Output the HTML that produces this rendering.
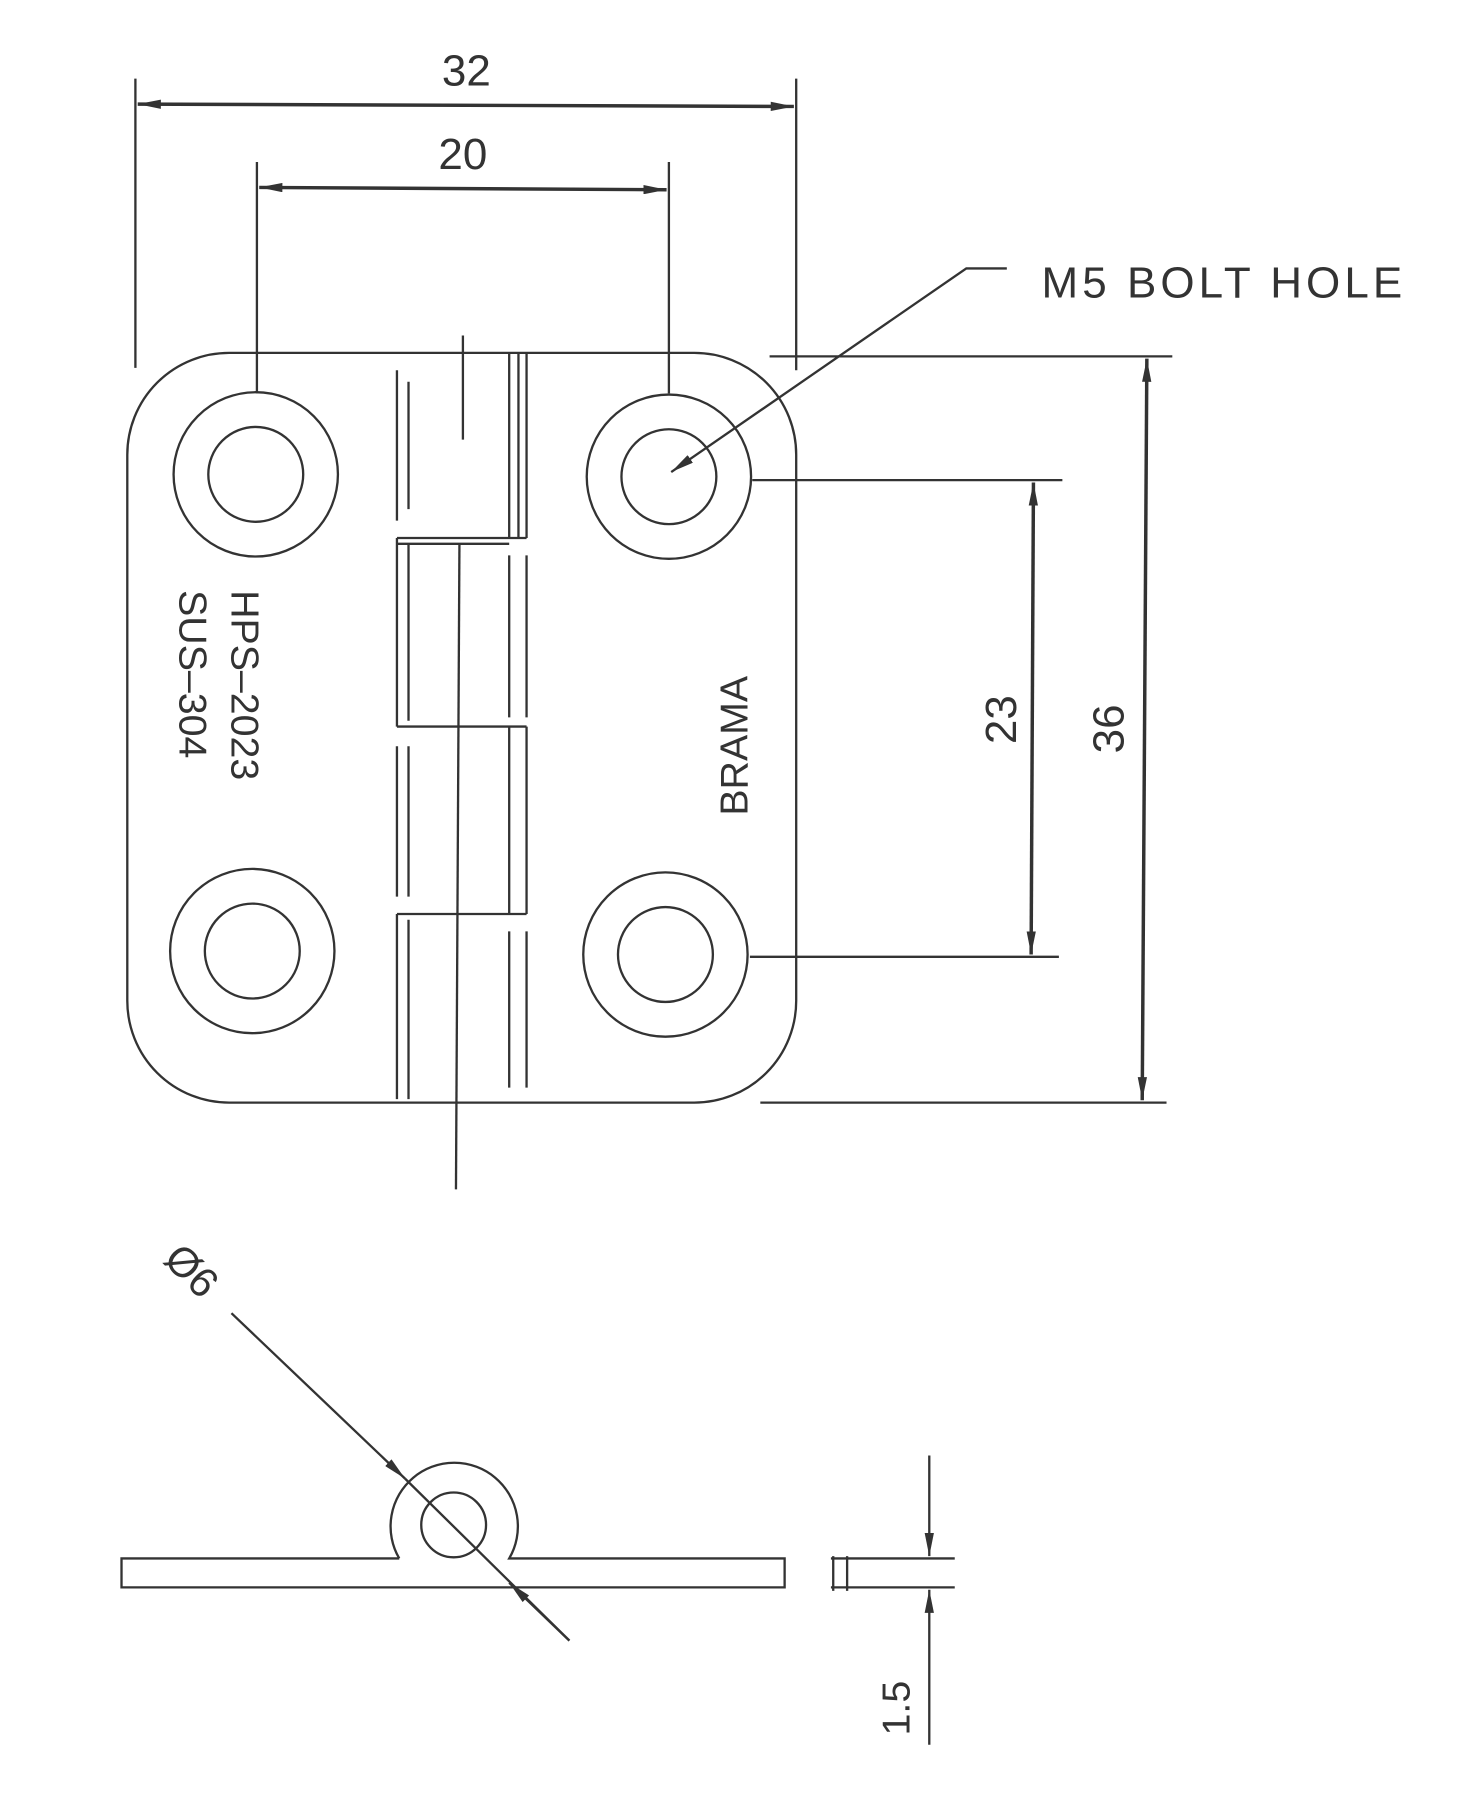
<!DOCTYPE html>
<html><head><meta charset="utf-8"><style>html,body{margin:0;padding:0;background:#fff}svg{display:block}</style></head><body>
<svg width="1457" height="1813" viewBox="0 0 1259 1567" preserveAspectRatio="none" xmlns="http://www.w3.org/2000/svg" font-family="Liberation Sans, sans-serif" fill="none" stroke="#333" stroke-width="2">
<defs>
<marker id="a" viewBox="0 0 20 8" refX="20" refY="4" markerWidth="20" markerHeight="8" markerUnits="userSpaceOnUse" orient="auto-start-reverse"><path d="M0,0 L20,4 L0,8 z" fill="#333" stroke="none"/></marker>
</defs>
<line x1="117" y1="68" x2="117" y2="318"/>
<line x1="688" y1="68" x2="688" y2="320"/>
<line x1="119" y1="90" x2="686" y2="92" marker-start="url(#a)" marker-end="url(#a)" stroke-width="3"/>
<text x="403" y="74" font-size="38" fill="#333" stroke="none" text-anchor="middle">32</text>
<line x1="222" y1="140" x2="222" y2="340"/>
<line x1="578" y1="140" x2="578" y2="340"/>
<line x1="224" y1="162" x2="576" y2="164" marker-start="url(#a)" marker-end="url(#a)" stroke-width="3"/>
<text x="400" y="146" font-size="38" fill="#333" stroke="none" text-anchor="middle">20</text>
<rect x="110" y="305" width="578" height="648" rx="88" ry="88"/>
<circle cx="221" cy="410" r="71"/><circle cx="221" cy="410" r="41"/>
<circle cx="578" cy="412" r="71"/><circle cx="578" cy="412" r="41"/>
<circle cx="218" cy="822" r="71"/><circle cx="218" cy="822" r="41"/>
<circle cx="575" cy="825" r="71"/><circle cx="575" cy="825" r="41"/>
<g stroke-width="2">
<line x1="440" y1="305" x2="440" y2="465"/><line x1="448" y1="305" x2="448" y2="465"/><line x1="455" y1="305" x2="455" y2="465"/>
<line x1="343" y1="320" x2="343" y2="450"/><line x1="353" y1="330" x2="353" y2="440"/>
<line x1="343" y1="465" x2="455" y2="465"/><line x1="343" y1="470" x2="440" y2="470"/>
<line x1="343" y1="465" x2="343" y2="628"/><line x1="353" y1="470" x2="353" y2="623"/>
<line x1="440" y1="480" x2="440" y2="620"/><line x1="455" y1="480" x2="455" y2="620"/>
<line x1="343" y1="628" x2="455" y2="628"/>
<line x1="440" y1="628" x2="440" y2="790"/><line x1="455" y1="628" x2="455" y2="790"/>
<line x1="343" y1="645" x2="343" y2="775"/><line x1="353" y1="645" x2="353" y2="775"/>
<line x1="343" y1="790" x2="455" y2="790"/>
<line x1="343" y1="790" x2="343" y2="950"/><line x1="353" y1="795" x2="353" y2="950"/>
<line x1="440" y1="805" x2="440" y2="940"/><line x1="455" y1="805" x2="455" y2="940"/>
<line x1="400" y1="290" x2="400" y2="380"/><line x1="397" y1="470" x2="394" y2="1028"/>
</g>
<text transform="translate(200,510) rotate(90)" font-size="34" fill="#333" stroke="none">HPS–2023</text>
<text transform="translate(155,510) rotate(90)" font-size="34" fill="#333" stroke="none">SUS–304</text>
<text transform="translate(646,705) rotate(-90)" font-size="34" fill="#333" stroke="none">BRAMA</text>
<text x="900" y="257" font-size="38" letter-spacing="3.5" fill="#333" stroke="none">M5 BOLT HOLE</text>
<polyline points="870,232 835,232 580,408" marker-end="url(#a)"/>
<line x1="650" y1="415" x2="918" y2="415"/>
<line x1="648" y1="827" x2="915" y2="827"/>
<line x1="893" y1="417" x2="891" y2="825" marker-start="url(#a)" marker-end="url(#a)" stroke-width="3"/>
<text transform="translate(878,622) rotate(-90)" font-size="38" fill="#333" stroke="none" text-anchor="middle">23</text>
<line x1="665" y1="308" x2="1013" y2="308"/>
<line x1="657" y1="953" x2="1008" y2="953"/>
<line x1="991" y1="310" x2="987" y2="951" marker-start="url(#a)" marker-end="url(#a)" stroke-width="3"/>
<text transform="translate(971,630) rotate(-90)" font-size="38" fill="#333" stroke="none" text-anchor="middle">36</text>
<path d="M345,1347 L105,1347 L105,1372 L678,1372 L678,1347 L440,1347 A55,55 0 1 0 345,1347"/>
<circle cx="392" cy="1318" r="28"/>
<line x1="200" y1="1135" x2="350" y2="1278" marker-end="url(#a)"/>
<line x1="350" y1="1278" x2="492" y2="1418"/>
<line x1="492" y1="1418" x2="440" y2="1368" marker-end="url(#a)"/>
<text transform="translate(140,1090) rotate(45)" font-size="36" fill="#333" stroke="none">Ø6</text>
<line x1="718" y1="1347" x2="825" y2="1347"/>
<line x1="718" y1="1372" x2="825" y2="1372"/>
<line x1="720" y1="1345" x2="720" y2="1375"/><line x1="732" y1="1345" x2="732" y2="1375"/>
<line x1="803" y1="1258" x2="803" y2="1345" marker-end="url(#a)"/>
<line x1="803" y1="1508" x2="803" y2="1374" marker-end="url(#a)"/>
<text transform="translate(786,1500) rotate(-90)" font-size="34" fill="#333" stroke="none">1.5</text>
</svg>
</body></html>
